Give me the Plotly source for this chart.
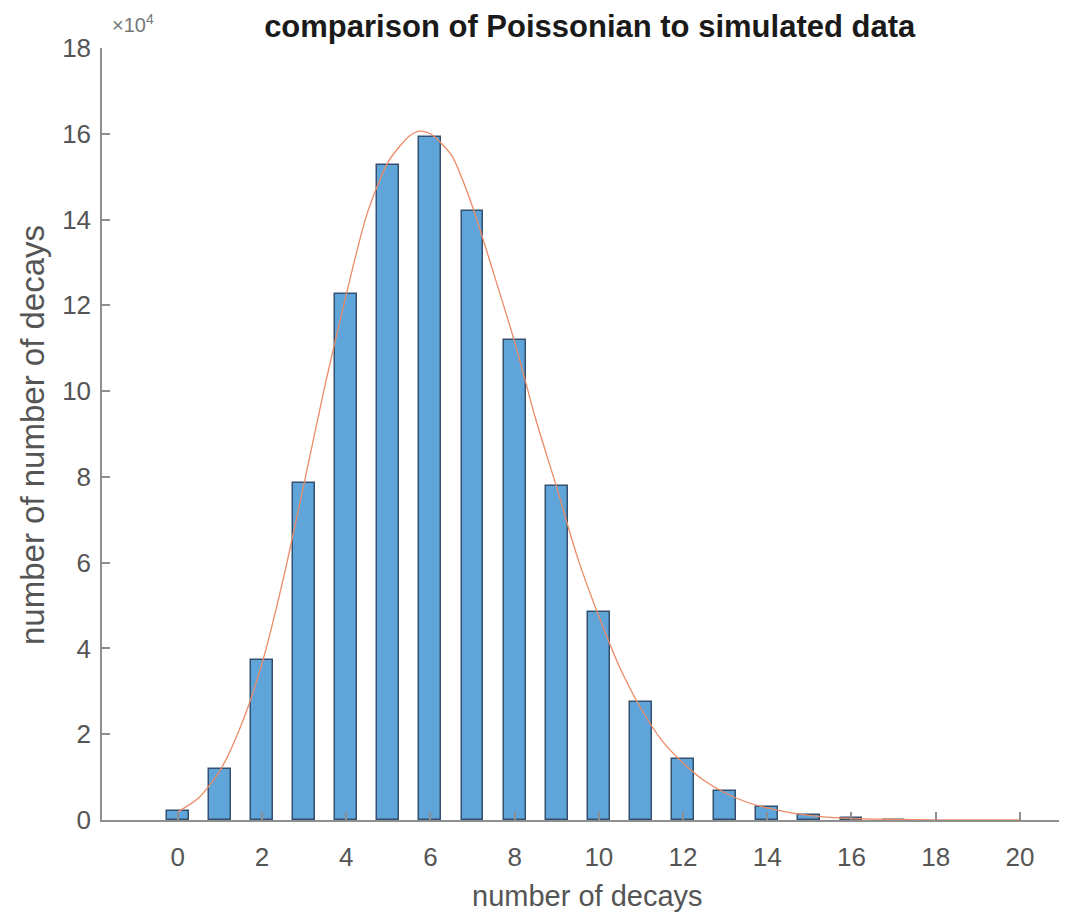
import plotly.graph_objects as go

# Simulated counts (units of 1e4) per number of decays
decays = list(range(0, 21))
counts = [0.20, 1.20, 3.74, 7.86, 12.26, 15.28, 15.93, 14.21, 11.19, 7.79,
          4.86, 2.74, 1.42, 0.67, 0.30, 0.12, 0.04, 0.01, None, None, None]

# Poissonian curve (units of 1e4)
curve_x = [0, 0.5, 1.0, 1.5, 2.0, 2.5, 3.0, 3.5, 4.0, 4.5, 5.0, 5.5, 5.75, 6.0,
           6.5, 7.0, 7.5, 8.0, 8.5, 9.0, 9.5, 10.0, 10.5, 11.0, 11.5, 12.0,
           12.5, 13.0, 13.5, 14.0, 14.5, 15.0, 15.5, 16.0, 17.0, 18.0, 19.0, 20.0]
curve_y = [0.19, 0.52, 1.15, 2.2, 3.65, 5.6, 7.85, 10.15, 12.25, 14.15, 15.35,
           15.95, 16.06, 16.0, 15.5, 14.3, 12.75, 11.15, 9.35, 7.75, 6.1, 4.75,
           3.55, 2.6, 1.85, 1.33, 0.92, 0.63, 0.42, 0.28, 0.18, 0.11, 0.06,
           0.035, 0.012, 0.004, 0.001, 0.0]

x_ticks = list(range(0, 21, 2))
y_ticks = list(range(0, 19, 2))

FONT = "Liberation Sans, Arial, sans-serif"
axis_col = "#8f8f8f"
tick_font = dict(family=FONT, size=26, color="#555555")

# page body adds an 8px margin; size the figure so the plot area matches
W, H = 1059, 908
L, R, T, B = 94, 5, 40, 96
plot_h = H - T - B
plot_w = W - L - R

fig = go.Figure()
fig.add_trace(go.Bar(
    x=decays, y=counts, width=0.52,
    marker=dict(color="#5fa5da", line=dict(color="#34506e", width=1.5)),
    showlegend=False,
))
fig.add_trace(go.Scatter(
    x=curve_x, y=curve_y, mode="lines",
    line=dict(color="#ec8a66", width=1.3, shape="spline", smoothing=0.7),
    showlegend=False,
))

fig.update_layout(
    width=W, height=H,
    paper_bgcolor="white", plot_bgcolor="white",
    margin=dict(l=L, r=R, t=T, b=B),
    title=dict(text="<b>comparison of Poissonian to simulated data</b>",
               font=dict(family=FONT, size=31, color="#1a1a1a"),
               xref="paper", x=0.508, xanchor="center",
               yref="container", y=1 - 18 / H, yanchor="middle"),
    xaxis=dict(range=[-1.8, 21], tickvals=x_ticks, ticks="inside", ticklen=8,
               tickcolor=axis_col, tickwidth=1.5, showline=True, linecolor=axis_col,
               linewidth=1.5, showgrid=False, zeroline=False, tickfont=tick_font,
               ticklabelstandoff=13),
    yaxis=dict(range=[0, 18], tickvals=y_ticks, ticks="inside", ticklen=8,
               tickcolor=axis_col, tickwidth=1.5, showline=True, linecolor=axis_col,
               linewidth=1.5, showgrid=False, zeroline=False, tickfont=tick_font,
               ticklabelstandoff=4),
    bargap=0,
)

fig.add_annotation(text="number of decays", xref="paper", yref="paper",
                   x=0.506, y=-76 / plot_h, xanchor="center", yanchor="middle",
                   showarrow=False,
                   font=dict(family=FONT, size=29, color="#555555"))
fig.add_annotation(text="number of number of decays", xref="paper", yref="paper",
                   x=-70 / plot_w, y=0.4987, xanchor="center", yanchor="middle",
                   textangle=-90, showarrow=False,
                   font=dict(family=FONT, size=33, color="#555555"))
fig.add_annotation(text="×10<sup>4</sup>", xref="paper", yref="paper",
                   x=8 / plot_w, y=1 + 24 / plot_h, xanchor="left", yanchor="middle",
                   showarrow=False,
                   font=dict(family=FONT, size=20, color="#777777"))

fig.write_html("out.html")
